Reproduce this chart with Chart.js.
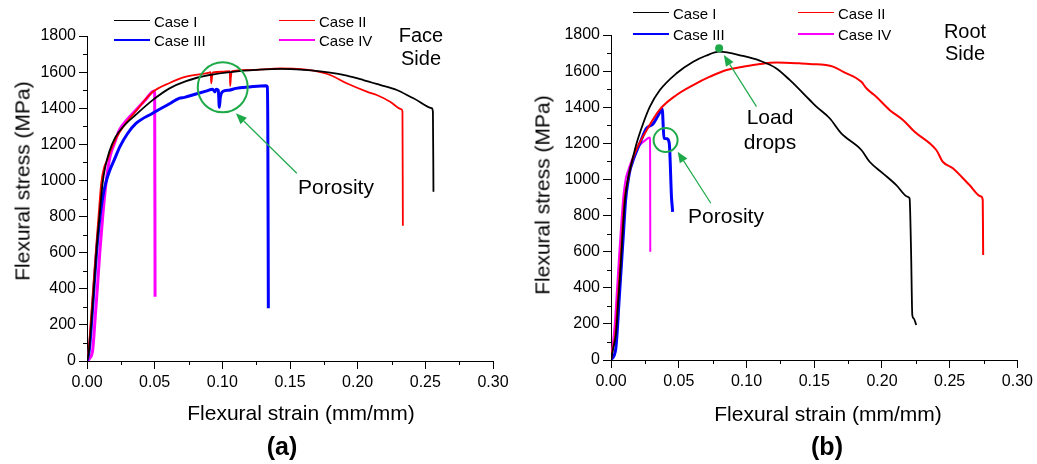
<!DOCTYPE html>
<html>
<head>
<meta charset="utf-8">
<script src="https://cdn.jsdelivr.net/npm/chart.js@4.4.0/dist/chart.umd.min.js"></script>
<style>
body { margin: 0; background: #fff; }
#wrap { position: relative; width: 1037px; height: 464px; overflow: hidden; font-family: "Liberation Sans", Arial, sans-serif; color: #000; }
canvas { position: absolute; top: 0; }
.t { position: absolute; transform: translate(-50%, -50%); white-space: nowrap; line-height: 1; }
.ty { position: absolute; transform: translate(-50%, -50%) rotate(-90deg); white-space: nowrap; line-height: 1; font-size: 21px; }
.lg-line { position: absolute; height: 0; }
.lg-text { position: absolute; font-size: 15px; line-height: 1; transform: translateY(-50%); white-space: nowrap; }
</style>
</head>
<body>
<div id="wrap">
  <canvas id="face" width="518" height="464" style="left:0"></canvas>
  <canvas id="root" width="517" height="464" style="left:520px"></canvas>

  <div class="ty" style="left:22px;top:181px">Flexural stress (MPa)</div>
  <div class="t" style="left:301px;top:412px;font-size:21px">Flexural strain (mm/mm)</div>
  <div class="t" style="left:282px;top:446px;font-size:25px;font-weight:bold">(a)</div>
  <div class="t" style="left:421px;top:35px;font-size:20px">Face</div>
  <div class="t" style="left:421px;top:58px;font-size:20px">Side</div>
  <div class="t" style="left:336px;top:186px;font-size:21px">Porosity</div>

  <div class="ty" style="left:542px;top:195px">Flexural stress (MPa)</div>
  <div class="t" style="left:828px;top:413px;font-size:21px">Flexural strain (mm/mm)</div>
  <div class="t" style="left:827px;top:446px;font-size:25px;font-weight:bold">(b)</div>
  <div class="t" style="left:965px;top:31px;font-size:20px">Root</div>
  <div class="t" style="left:965px;top:53px;font-size:20px">Side</div>
  <div class="t" style="left:770px;top:116px;font-size:21px">Load</div>
  <div class="t" style="left:770px;top:141px;font-size:21px">drops</div>
  <div class="t" style="left:726px;top:215px;font-size:21px">Porosity</div>
</div>

<script>
/**
 * Data (strain in mm/mm, stress in MPa)
 */

var caseLabels = ['Case I', 'Case II', 'Case III', 'Case IV'];
var caseColors = ['#000000', '#ff0000', '#0000ff', '#ff00ff'];

var strainTicks = [0, 0.05, 0.10, 0.15, 0.20, 0.25, 0.30];
var stressTicks = [0, 200, 400, 600, 800, 1000, 1200, 1400, 1600, 1800];

// (a) face side
var faceCase1X = [0, 0.0015, 0.0035, 0.0053, 0.007, 0.0092, 0.0115, 0.0135, 0.0165, 0.021, 0.027, 0.0362, 0.0485, 0.061, 0.0732, 0.0904, 0.1094, 0.125, 0.1428, 0.16, 0.1796, 0.192, 0.2042, 0.2165, 0.2289, 0.2412, 0.2547, 0.2556, 0.256];
var faceCase1Y = [0, 60, 245, 430, 615, 800, 984, 1075, 1160, 1240, 1300, 1365, 1445, 1510, 1550, 1584, 1603, 1612, 1618, 1612, 1597, 1580, 1556, 1529, 1501, 1455, 1400, 1380, 938];

var faceCase2X = [0, 0.0012, 0.003, 0.0048, 0.0066, 0.0085, 0.0105, 0.0128, 0.0155, 0.0177, 0.022, 0.028, 0.0362, 0.0485, 0.061, 0.0732, 0.0904, 0.0914, 0.0918, 0.0924, 0.093, 0.1, 0.1055, 0.1058, 0.1063, 0.107, 0.1224, 0.1428, 0.155, 0.1672, 0.1796, 0.1919, 0.2067, 0.2141, 0.224, 0.2325, 0.2331, 0.2334];
var faceCase2Y = [0, 60, 245, 430, 615, 800, 984, 1076, 1120, 1169, 1240, 1310, 1385, 1490, 1540, 1575, 1597, 1600, 1538, 1575, 1598, 1602, 1606, 1523, 1570, 1606, 1612, 1620, 1618, 1608, 1584, 1538, 1492, 1473, 1436, 1394, 1380, 749];

var faceCase3X = [0, 0.0017, 0.0037, 0.0054, 0.0072, 0.0096, 0.0118, 0.014, 0.0165, 0.0202, 0.0245, 0.03, 0.0362, 0.0485, 0.061, 0.068, 0.072, 0.0805, 0.088, 0.0928, 0.0945, 0.0955, 0.097, 0.0978, 0.0985, 0.1003, 0.105, 0.110, 0.12, 0.1323, 0.1332, 0.1336, 0.134];
var faceCase3Y = [0, 61, 245, 430, 615, 799, 915, 990, 1050, 1115, 1190, 1260, 1316, 1372, 1425, 1455, 1460, 1479, 1495, 1505, 1490, 1505, 1500, 1405, 1460, 1492, 1500, 1510, 1518, 1525, 1520, 1300, 292];

var faceCase4X = [0, 0.002, 0.0042, 0.0061, 0.0079, 0.0096, 0.0116, 0.014, 0.017, 0.0205, 0.0239, 0.03, 0.0362, 0.043, 0.0495, 0.05, 0.0503];
var faceCase4Y = [0, 15, 61, 245, 430, 615, 799, 984, 1131, 1210, 1279, 1340, 1390, 1445, 1495, 1480, 356];

// (b) root side
var rootCase1X = [0, 0.0015, 0.0037, 0.0054, 0.0071, 0.0086, 0.0103, 0.012, 0.014, 0.0189, 0.0238, 0.0287, 0.0361, 0.0484, 0.0607, 0.07, 0.0798, 0.0975, 0.1098, 0.1221, 0.1319, 0.1467, 0.1516, 0.1614, 0.17, 0.1848, 0.1909, 0.2007, 0.2106, 0.2191, 0.2204, 0.2215, 0.2224, 0.2235, 0.2253];
var rootCase1Y = [0, 60, 148, 332, 517, 702, 886, 980, 1052, 1200, 1311, 1403, 1495, 1588, 1652, 1685, 1708, 1684, 1658, 1615, 1551, 1440, 1403, 1339, 1255, 1163, 1098, 1034, 969, 904, 895, 600, 249, 230, 194];

var rootCase2X = [0, 0.0012, 0.0033, 0.005, 0.0067, 0.0082, 0.0099, 0.0125, 0.0155, 0.019, 0.0238, 0.0361, 0.0484, 0.0607, 0.073, 0.0853, 0.0975, 0.1098, 0.1221, 0.1393, 0.1467, 0.1639, 0.1712, 0.1848, 0.1885, 0.1958, 0.2056, 0.2155, 0.2241, 0.2401, 0.2449, 0.2523, 0.2646, 0.2732, 0.2744, 0.2746, 0.2747];
var rootCase2Y = [0, 60, 148, 332, 517, 702, 886, 1000, 1100, 1170, 1240, 1388, 1468, 1523, 1569, 1606, 1624, 1639, 1647, 1643, 1640, 1625, 1597, 1541, 1505, 1458, 1385, 1329, 1264, 1163, 1098, 1062, 969, 905, 886, 700, 582];

var rootCase3X = [0, 0.0034, 0.0045, 0.006, 0.0076, 0.0092, 0.0108, 0.0128, 0.014, 0.0165, 0.0213, 0.0262, 0.031, 0.0345, 0.0378, 0.0391, 0.0415, 0.043, 0.0447, 0.0452, 0.0455];
var rootCase3Y = [0, 57, 148, 332, 517, 702, 886, 1000, 1050, 1110, 1200, 1283, 1307, 1350, 1390, 1228, 1225, 1200, 895, 850, 821];

var rootCase4X = [0, 0.0012, 0.0028, 0.0045, 0.0062, 0.0078, 0.0091, 0.0108, 0.0128, 0.0164, 0.0214, 0.025, 0.0287, 0.0289, 0.029];
var rootCase4Y = [0, 80, 200, 400, 600, 780, 904, 1000, 1052, 1126, 1191, 1215, 1233, 1100, 600];

/**
 * Annotations (positions in data units)
 */

var faceNotes = {
    circles: [{ x: 0.1003, y: 1516, r: 25 }],
    arrows: [{ x0: 0.155, y0: 1040, x1: 0.110, y1: 1372 }],
    dots: []
};
var rootNotes = {
    circles: [{ x: 0.0403, y: 1218, r: 12 }],
    arrows: [{ x0: 0.1074, y0: 1403, x1: 0.0833, y1: 1689 }, { x0: 0.0737, y0: 868, x1: 0.0492, y1: 1154 }],
    dots: [{ x: 0.0798, y: 1726, r: 4 }]
};

var green = '#1faa4a';

var notesPlugin = {
    id: 'notes',
    afterDraw: function(chart, args, opts) {
        var ctx = chart.ctx;
        var xs = chart.scales.x, ys = chart.scales.y;
        var area = chart.chartArea;
        ctx.save();

        // minor ticks
        ctx.strokeStyle = '#000';
        ctx.lineWidth = 1;
        ctx.beginPath();
        for (var i = 0; i < stressTicks.length - 1; i++) {
            var py = Math.round(ys.getPixelForValue((stressTicks[i] + stressTicks[i + 1]) / 2)) + 0.5;
            ctx.moveTo(area.left - 4, py);
            ctx.lineTo(area.left, py);
        }
        for (var j = 0; j < strainTicks.length - 1; j++) {
            var px = Math.round(xs.getPixelForValue((strainTicks[j] + strainTicks[j + 1]) / 2)) + 0.5;
            ctx.moveTo(px, area.bottom);
            ctx.lineTo(px, area.bottom + 4);
        }
        ctx.stroke();

        // circles
        ctx.strokeStyle = green;
        ctx.lineWidth = 2;
        opts.circles.forEach(function(c) {
            ctx.beginPath();
            ctx.arc(xs.getPixelForValue(c.x), ys.getPixelForValue(c.y), c.r, 0, Math.PI * 2);
            ctx.stroke();
        });

        // dots
        ctx.fillStyle = green;
        opts.dots.forEach(function(d) {
            ctx.beginPath();
            ctx.arc(xs.getPixelForValue(d.x), ys.getPixelForValue(d.y), d.r, 0, Math.PI * 2);
            ctx.fill();
        });

        // arrows
        ctx.lineWidth = 1.2;
        opts.arrows.forEach(function(a) {
            var x0 = xs.getPixelForValue(a.x0), y0 = ys.getPixelForValue(a.y0);
            var x1 = xs.getPixelForValue(a.x1), y1 = ys.getPixelForValue(a.y1);
            var ang = Math.atan2(y1 - y0, x1 - x0);
            var len = 11, half = 4.5;
            var bx = x1 - len * Math.cos(ang), by = y1 - len * Math.sin(ang);
            ctx.beginPath();
            ctx.moveTo(x0, y0);
            ctx.lineTo(bx, by);
            ctx.stroke();
            ctx.beginPath();
            ctx.moveTo(x1, y1);
            ctx.lineTo(bx + half * Math.sin(ang), by - half * Math.cos(ang));
            ctx.lineTo(bx - half * Math.sin(ang), by + half * Math.cos(ang));
            ctx.closePath();
            ctx.fill();
        });

        ctx.restore();
    }
};

var tickFont = { family: '"Liberation Sans", Arial, sans-serif', size: 16 };

var makeChart = function(id, series, widths, yAxisW, xAxisH, padTop, padRight, notes) {
    var datasets = [];
    for (var i = 0; i < series.length; i++) {
        var xs = series[i][0], ys = series[i][1];
        var pts = [];
        for (var k = 0; k < xs.length; k++) {
            pts.push({ x: xs[k], y: ys[k] });
        }
        datasets.push({
            label: caseLabels[i],
            data: pts,
            showLine: true,
            borderColor: caseColors[i],
            backgroundColor: caseColors[i],
            borderWidth: widths[i],
            pointRadius: 0,
            cubicInterpolationMode: 'monotone'
        });
    }

    return new Chart(document.getElementById(id), {
        type: 'scatter',
        data: { datasets: datasets },
        options: {
            responsive: false,
            animation: false,
            devicePixelRatio: 1,
            layout: { padding: { top: padTop, right: padRight, left: 0, bottom: 0 } },
            plugins: {
                legend: { display: false },
                tooltip: { enabled: false },
                notes: notes
            },
            scales: {
                x: {
                    type: 'linear',
                    min: strainTicks[0],
                    max: strainTicks[strainTicks.length - 1],
                    afterFit: function(s) { s.height = xAxisH; },
                    ticks: {
                        stepSize: 0.05,
                        padding: 4,
                        maxRotation: 0,
                        autoSkip: false,
                        color: '#000',
                        font: tickFont,
                        callback: function(v) { return Number(v).toFixed(2); }
                    },
                    grid: { drawOnChartArea: false, tickLength: 8, tickColor: '#000', tickWidth: 1 },
                    border: { color: '#000', width: 1 }
                },
                y: {
                    type: 'linear',
                    min: stressTicks[0],
                    max: stressTicks[stressTicks.length - 1],
                    afterFit: function(s) { s.width = yAxisW; },
                    ticks: {
                        stepSize: 200,
                        padding: 3,
                        autoSkip: false,
                        color: '#000',
                        font: tickFont,
                        callback: function(v) { return String(Math.round(v)); }
                    },
                    grid: { drawOnChartArea: false, tickLength: 8, tickColor: '#000', tickWidth: 1 },
                    border: { color: '#000', width: 1 }
                }
            }
        },
        plugins: [notesPlugin]
    });
};

/**
 * Legends (2 x 2 grid like the figure)
 */

var makeLegend = function(colX, rowY, widths) {
    var wrap = document.getElementById('wrap');
    for (var i = 0; i < caseLabels.length; i++) {
        var cx = colX[i % 2], cy = rowY[Math.floor(i / 2)];
        var line = document.createElement('div');
        line.className = 'lg-line';
        line.style.left = cx + 'px';
        line.style.width = '36px';
        line.style.top = (cy - widths[i] / 2) + 'px';
        line.style.borderTop = widths[i] + 'px solid ' + caseColors[i];
        wrap.appendChild(line);
        var txt = document.createElement('div');
        txt.className = 'lg-text';
        txt.style.left = (cx + 40) + 'px';
        txt.style.top = cy + 'px';
        txt.textContent = caseLabels[i];
        wrap.appendChild(txt);
    }
};

makeChart('face',
    [[faceCase1X, faceCase1Y], [faceCase2X, faceCase2Y], [faceCase3X, faceCase3Y], [faceCase4X, faceCase4Y]],
    [1.8, 1.8, 3, 3], 87, 103, 36, 25, faceNotes);
makeChart('root',
    [[rootCase1X, rootCase1Y], [rootCase2X, rootCase2Y], [rootCase3X, rootCase3Y], [rootCase4X, rootCase4Y]],
    [1.8, 2, 3, 2], 91, 104, 35, 19, rootNotes);

makeLegend([114, 279], [20.5, 40], [1.5, 1.5, 2, 2]);
makeLegend([633, 798], [12.5, 33.5], [1.5, 1.5, 2, 2]);
</script>
</body>
</html>
